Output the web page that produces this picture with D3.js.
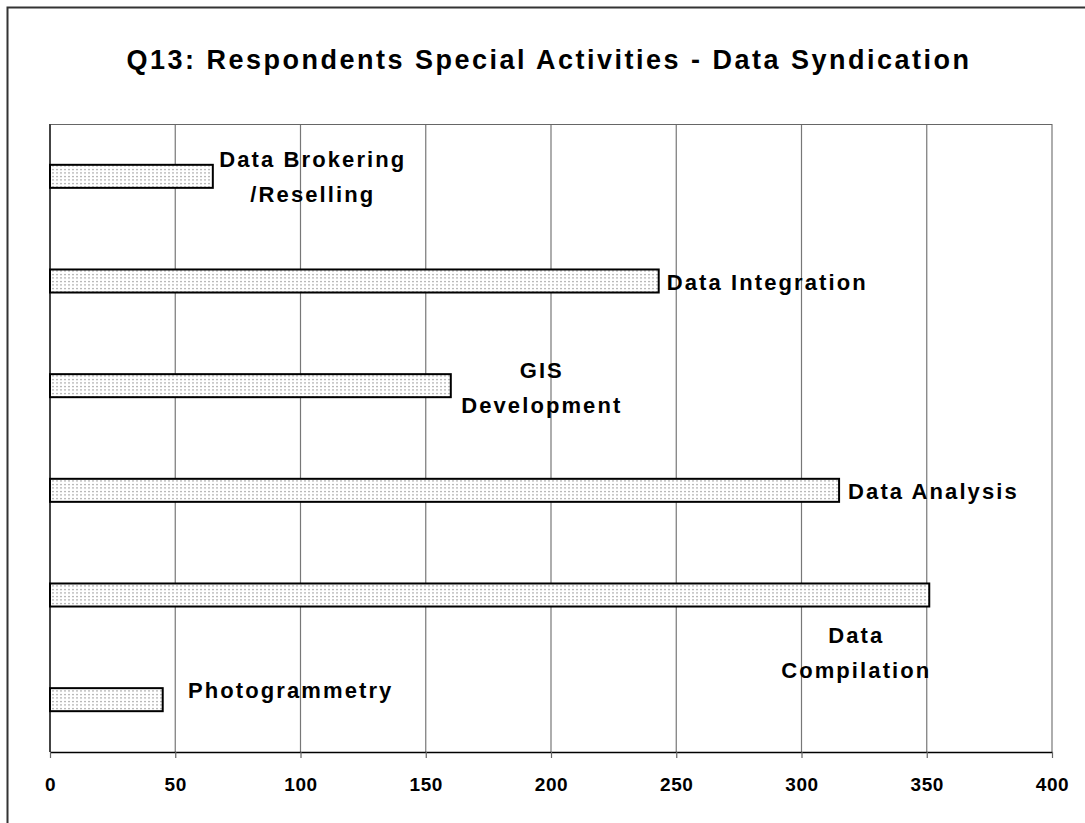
<!DOCTYPE html>
<html>
<head>
<meta charset="utf-8">
<script src="https://cdn.jsdelivr.net/npm/d3@7"></script>
<style>
  html, body { margin: 0; padding: 0; background: #fff; }
  svg { display: block; }
  text { font-family: "Liberation Sans", Arial, sans-serif; font-weight: bold; fill: #000; }
</style>
</head>
<body>
<svg id="chart" width="1085" height="823"></svg>
<script>
// Activities, top to bottom, and the number of respondents for each
const categories = [
  "Data Brokering /Reselling",
  "Data Integration",
  "GIS Development",
  "Data Analysis",
  "Data Compilation",
  "Photogrammetry"
];
const values = [65, 243, 160, 315, 351, 45];
const labelLines = [
  ["Data Brokering", "/Reselling"],
  ["Data Integration"],
  ["GIS", "Development"],
  ["Data Analysis"],
  ["Data", "Compilation"],
  ["Photogrammetry"]
];
const xTicks = [0, 50, 100, 150, 200, 250, 300, 350, 400];
const title = "Q13: Respondents Special Activities - Data Syndication";

// Label placement relative to the bar end and bar centre: [dx, dy of first baseline, anchor]
const labelPlacement = [
  [100, -9, "middle"],
  [8, 9, "start"],
  [91, -8, "middle"],
  [9, 9, "start"],
  [-73, 48, "middle"],
  [128, -2, "middle"]
];

const svg = d3.select("#chart");
const W = 1085, H = 823;
const plot = { left: 50, right: 1052, top: 124, bottom: 752 };

// Outer chart frame (runs off the right and bottom edges)
svg.append("rect")
  .attr("x", 7.5).attr("y", 7.5)
  .attr("width", W + 20).attr("height", H + 20)
  .attr("fill", "#fff").attr("stroke", "#333").attr("stroke-width", 2);

// Dotted fill for the bars
const defs = svg.append("defs");
const pat = defs.append("pattern")
  .attr("id", "dots").attr("patternUnits", "userSpaceOnUse")
  .attr("width", 4).attr("height", 3.5);
pat.append("rect").attr("width", 4).attr("height", 3.5).attr("fill", "#fff");
pat.append("rect").attr("x", 0).attr("y", 1).attr("width", 2).attr("height", 1).attr("fill", "#a0a0a0");

const x = d3.scaleLinear().domain([0, 400]).range([plot.left, plot.right]);
const y = d3.scaleBand().domain(categories).range([plot.top, plot.bottom]).padding(0);
const barH = y.bandwidth() * 0.22;

// Vertical gridlines
svg.append("g").selectAll("line")
  .data(xTicks.slice(1))
  .join("line")
  .attr("x1", d => x(d)).attr("x2", d => x(d))
  .attr("y1", plot.top).attr("y2", plot.bottom)
  .attr("stroke", "#777").attr("stroke-width", 1.2);

// Plot area top border
svg.append("line")
  .attr("x1", plot.left).attr("x2", plot.right)
  .attr("y1", plot.top + 0.5).attr("y2", plot.top + 0.5)
  .attr("stroke", "#666").attr("stroke-width", 1.2);

// Left axis line
svg.append("line")
  .attr("x1", plot.left).attr("x2", plot.left)
  .attr("y1", plot.top).attr("y2", plot.bottom)
  .attr("stroke", "#444").attr("stroke-width", 2);

// Bottom axis
const xAxis = d3.axisBottom(x).tickValues(xTicks).tickSize(6).tickSizeOuter(0).tickPadding(20);
const gx = svg.append("g")
  .attr("transform", `translate(0,${plot.bottom})`)
  .call(xAxis);
gx.select(".domain").attr("stroke", "#000").attr("stroke-width", 1.5);
gx.selectAll(".tick line").attr("stroke", "#666").attr("stroke-width", 1.2);
gx.selectAll(".tick text")
  .attr("font-size", 19).attr("font-family", "Liberation Sans, Arial, sans-serif")
  .attr("font-weight", "bold").attr("fill", "#000").attr("letter-spacing", 0.6);

// Bars
svg.append("g").selectAll("rect")
  .data(categories)
  .join("rect")
  .attr("x", x(0))
  .attr("y", d => y(d) + y.bandwidth() / 2 - barH / 2)
  .attr("width", (d, i) => x(values[i]) - x(0))
  .attr("height", barH)
  .attr("fill", "url(#dots)")
  .attr("stroke", "#000").attr("stroke-width", 2);

// Data labels
const lineGap = 35;
const lg = svg.append("g");
categories.forEach((c, i) => {
  const [dx, dy, anchor] = labelPlacement[i];
  const t = lg.append("text")
    .attr("x", x(values[i]) + dx)
    .attr("y", y(c) + y.bandwidth() / 2 + dy)
    .attr("text-anchor", anchor)
    .attr("font-size", 22)
    .attr("letter-spacing", 2.1);
  labelLines[i].forEach((ln, k) => {
    t.append("tspan")
      .attr("x", x(values[i]) + dx)
      .attr("dy", k === 0 ? 0 : lineGap)
      .text(ln);
  });
});

// Title
svg.append("text")
  .attr("x", 549).attr("y", 69)
  .attr("text-anchor", "middle")
  .attr("font-size", 27)
  .attr("letter-spacing", 2.5)
  .text(title);
</script>
</body>
</html>
